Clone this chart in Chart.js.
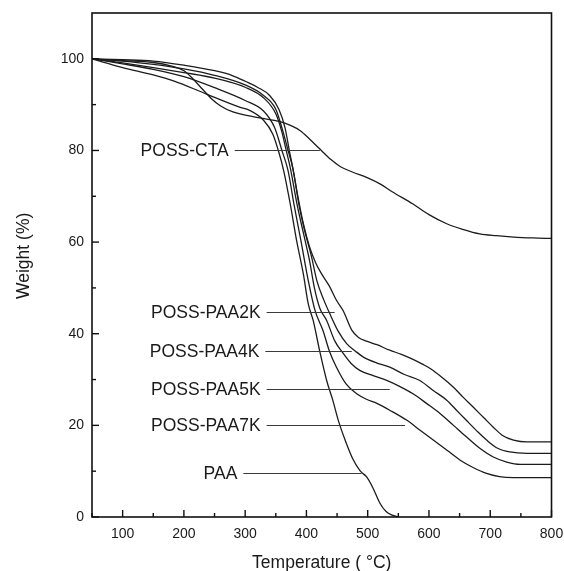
<!DOCTYPE html>
<html>
<head>
<meta charset="utf-8">
<script src="https://cdn.jsdelivr.net/npm/chart.js@4.4.1/dist/chart.umd.min.js"></script>
<style>
  html, body { margin: 0; padding: 0; background: #ffffff; }
  #wrap { position: relative; width: 564px; height: 571px; }
</style>
</head>
<body>
<div id="wrap"><canvas id="c" width="564" height="571"></canvas></div>
<script>
// ---- Data ----
const ctaT  = [50, 100, 150, 180, 200, 215, 230, 245, 260, 280, 300, 324, 357, 375, 390, 405, 422, 440, 455, 475, 500, 520, 540, 574, 600, 629, 655, 683, 710, 738, 770, 800];
const ctaW  = [100, 99.6, 99.2, 98.4, 97.4, 95.6, 93.4, 91.3, 89.7, 88.4, 87.7, 87.1, 86.3, 85.4, 84.3, 82.5, 80.3, 78.0, 76.5, 75.3, 74.0, 72.7, 71.0, 68.3, 66.0, 64.0, 62.8, 61.8, 61.4, 61.1, 60.9, 60.8];

const k2T   = [50, 100, 150, 200, 250, 280, 300, 320, 340, 355, 365, 372, 378, 386, 395, 405, 415, 425, 437, 449, 460, 474, 485, 498, 515, 536, 555, 574, 590, 602, 620, 640, 656, 672, 690, 705, 720, 738, 760, 800];
const k2W   = [100, 99.8, 99.5, 98.6, 97.4, 96.3, 95.1, 93.8, 92.0, 89.0, 85.0, 80.0, 76.0, 70.0, 64.0, 59.0, 55.5, 53.0, 50.5, 47.3, 45.0, 40.8, 39.2, 38.4, 37.6, 36.4, 35.5, 34.4, 33.3, 32.4, 30.6, 28.3, 26.1, 24.0, 21.6, 19.6, 17.8, 16.8, 16.4, 16.4];

const k4T   = [50, 100, 150, 200, 250, 300, 330, 350, 362, 370, 378, 388, 398, 408, 417, 428, 438, 452, 466, 480, 493, 515, 536, 560, 585, 607, 629, 645, 661, 678, 694, 712, 732, 760, 800];
const k4W   = [100, 99.5, 98.8, 97.8, 96.4, 94.3, 92.0, 89.0, 84.0, 80.0, 76.0, 68.0, 62.0, 57.0, 51.6, 47.5, 44.4, 40.5, 37.8, 36.2, 34.9, 33.6, 32.7, 31.1, 29.8, 27.6, 25.5, 23.3, 21.1, 18.8, 16.8, 15.0, 14.2, 13.9, 13.9];

const k5T   = [50, 100, 150, 200, 250, 300, 330, 350, 360, 367, 374, 385, 395, 405, 413, 422, 433, 446, 460, 473, 487, 510, 531, 552, 574, 596, 618, 640, 661, 683, 705, 727, 749, 800];
const k5W   = [100, 99.1, 98.1, 97.0, 95.8, 93.8, 91.5, 88.0, 84.0, 80.0, 76.0, 68.0, 62.0, 56.0, 50.0, 45.5, 42.9, 38.5, 35.7, 33.5, 32.0, 30.8, 29.8, 28.5, 26.9, 24.8, 22.6, 20.0, 17.5, 15.0, 13.1, 12.0, 11.5, 11.5];

const k7T   = [50, 100, 150, 200, 250, 300, 330, 348, 360, 370, 380, 391, 403, 414, 427, 438, 449, 465, 482, 498, 515, 540, 564, 585, 607, 630, 651, 672, 694, 715, 738, 800];
const k7W   = [100, 98.9, 97.7, 96.1, 93.7, 90.9, 88.6, 85.0, 80.0, 75.6, 68.0, 60.3, 51.6, 45.1, 40.7, 36.0, 32.7, 29.0, 26.9, 25.7, 24.8, 23.0, 21.1, 19.0, 16.8, 14.5, 12.4, 10.8, 9.5, 8.8, 8.6, 8.6];

const paaT  = [50, 100, 150, 183, 237, 292, 308, 330, 345, 355, 363, 374, 384, 395, 403, 411, 422, 433, 443, 452, 464, 476, 488, 498, 508, 520, 530, 540, 550];
const paaW  = [100, 98.1, 96.5, 95.2, 92.3, 89.4, 88.7, 86.6, 83.6, 79.6, 75.5, 68.0, 60.3, 53.0, 46.5, 42.9, 36.0, 29.8, 25.5, 21.1, 16.5, 12.6, 10.0, 8.8, 6.5, 3.0, 1.2, 0.4, 0.0];

// annotation labels: text, weight level of the leader line, leader start and end temperature
const labelTexts  = ['POSS-CTA', 'POSS-PAA2K', 'POSS-PAA4K', 'POSS-PAA5K', 'POSS-PAA7K', 'PAA'];
const labelLevels = [80, 44.7, 36.2, 28.0, 20.0, 9.7];
const labelFromT  = [283, 335, 333, 335, 335, 297];
const labelToT    = [422, 446, 474, 536, 561, 490];

// axis ticks
const xTicks = [100, 200, 300, 400, 500, 600, 700, 800];
const yTicks = [0, 20, 40, 60, 80, 100];
const yTitle = 'Weight (%)';
const xTitle = 'Temperature ( °C)';

function pts(T, W) { return T.map((t, i) => ({ x: t, y: W[i] })); }

const seriesNames = ['POSS-CTA', 'POSS-PAA2K', 'POSS-PAA4K', 'POSS-PAA5K', 'POSS-PAA7K', 'PAA'];
const seriesData  = [pts(ctaT, ctaW), pts(k2T, k2W), pts(k4T, k4W), pts(k5T, k5W), pts(k7T, k7W), pts(paaT, paaW)];

const FONT = "'Liberation Sans', Arial, sans-serif";

const framePlugin = {
  id: 'frame',
  afterDatasetsDraw(chart) {
    const ctx = chart.ctx;
    const a = chart.chartArea;
    const xs = chart.scales.x, ys = chart.scales.y;
    ctx.save();
    // leader lines and curve labels
    ctx.strokeStyle = '#3a3a3a';
    ctx.lineWidth = 1;
    ctx.font = '17.5px ' + FONT;
    ctx.fillStyle = '#1a1a1a';
    ctx.textAlign = 'right';
    ctx.textBaseline = 'middle';
    for (let i = 0; i < labelTexts.length; i++) {
      const y = Math.round(ys.getPixelForValue(labelLevels[i])) + 0.5;
      const x0 = xs.getPixelForValue(labelFromT[i]);
      const x1 = xs.getPixelForValue(labelToT[i]);
      ctx.beginPath();
      ctx.moveTo(x0, y);
      ctx.lineTo(x1, y);
      ctx.stroke();
      ctx.fillText(labelTexts[i], x0 - 6, y + 1);
    }
    // y axis title
    ctx.save();
    ctx.translate(24, ys.getPixelForValue(57));
    ctx.rotate(-Math.PI / 2);
    ctx.textAlign = 'center';
    ctx.fillText(yTitle, 0, 0);
    ctx.restore();
    // frame
    ctx.strokeStyle = '#111';
    ctx.lineWidth = 1.6;
    ctx.strokeRect(a.left, a.top, a.right - a.left, a.bottom - a.top);
    // inward ticks
    ctx.lineWidth = 1.4;
    for (let v = 50; v <= 800; v += 50) {
      const px = xs.getPixelForValue(v);
      const len = (v % 100 === 0) ? 7 : 4;
      ctx.beginPath();
      ctx.moveTo(px, a.bottom);
      ctx.lineTo(px, a.bottom - len);
      ctx.stroke();
    }
    for (let v = 0; v <= 100; v += 10) {
      const py = ys.getPixelForValue(v);
      const len = (v % 20 === 0) ? 7 : 4;
      ctx.beginPath();
      ctx.moveTo(a.left, py);
      ctx.lineTo(a.left + len, py);
      ctx.stroke();
    }
    ctx.restore();
  }
};

new Chart(document.getElementById('c'), {
  type: 'line',
  data: {
    datasets: seriesNames.map((n, i) => ({
      label: n,
      data: seriesData[i],
      borderColor: '#1c1c1c',
      borderWidth: 1.3,
      pointRadius: 0,
      fill: false,
      cubicInterpolationMode: 'monotone'
    }))
  },
  options: {
    responsive: false,
    animation: false,
    devicePixelRatio: 1,
    layout: { padding: { top: 13, right: 12.5, left: 0, bottom: 0 } },
    plugins: { legend: { display: false }, tooltip: { enabled: false } },
    scales: {
      x: {
        type: 'linear',
        min: 50, max: 800,
        afterBuildTicks: s => { s.ticks = xTicks.map(v => ({ value: v })); },
        afterFit: s => { s.height = 54; s.paddingLeft = 0; s.paddingRight = 0; },
        grid: { display: false, drawTicks: false },
        border: { display: false },
        ticks: { color: '#1a1a1a', font: { family: FONT, size: 14 }, padding: 9, maxRotation: 0 },
        title: { display: true, text: xTitle, color: '#1a1a1a', font: { family: FONT, size: 17.5, lineHeight: 1 }, padding: { top: 0, bottom: -1 } }
      },
      y: {
        type: 'linear',
        min: 0, max: 110,
        afterBuildTicks: s => { s.ticks = yTicks.map(v => ({ value: v })); },
        afterFit: s => { s.width = 92; s.paddingTop = 0; s.paddingBottom = 0; },
        grid: { display: false, drawTicks: false },
        border: { display: false },
        ticks: { color: '#1a1a1a', font: { family: FONT, size: 14 }, padding: 8 }
      }
    }
  },
  plugins: [framePlugin]
});
</script>
</body>
</html>
